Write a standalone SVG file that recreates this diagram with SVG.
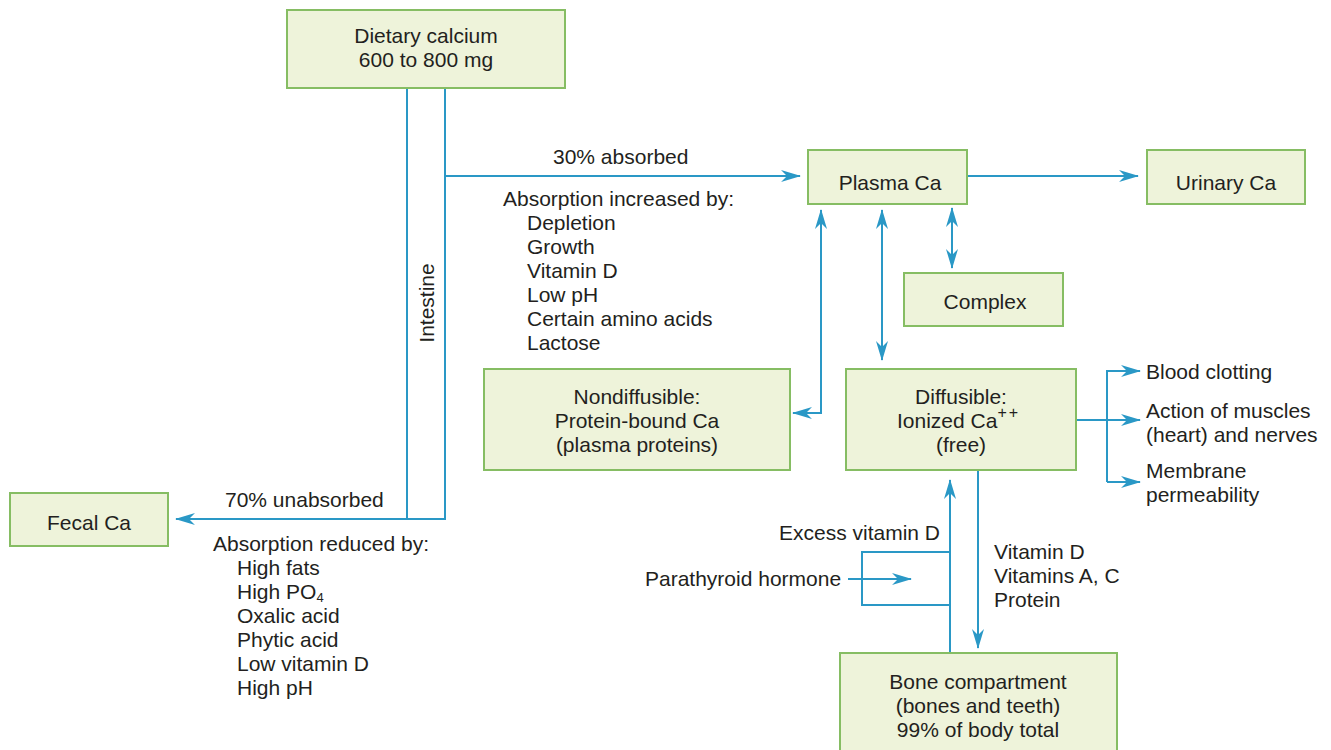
<svg xmlns="http://www.w3.org/2000/svg" width="1331" height="750" viewBox="0 0 1331 750">
  <defs>
    <style>
      .box { fill: #eef3da; stroke: #86bd63; stroke-width: 2; }
      .lbl { font-family: "Liberation Sans", Arial, sans-serif; font-size: 21px; fill: #231f20; }
      .mid { text-anchor: middle; }
      .end { text-anchor: end; }
      .ln { fill: none; stroke: #2a98c6; stroke-width: 2; }
    </style>
    <marker id="ah" viewBox="0 0 20 12" refX="19" refY="6" markerWidth="20" markerHeight="12" markerUnits="userSpaceOnUse" orient="auto-start-reverse">
      <path d="M0,0 L20,6 L0,12 L6,6 Z" fill="#2a98c6"/>
    </marker>
  </defs>

  <rect width="1331" height="750" fill="#ffffff"/>

  <!-- connectors -->
  <g id="connectors">
    <!-- intestine -->
    <path class="ln" d="M407,88 V519"/>
    <path class="ln" d="M445,88 V519 H176" marker-end="url(#ah)"/>
    <path class="ln" d="M445,176 H800" marker-end="url(#ah)"/>
    <!-- plasma to urinary -->
    <path class="ln" d="M967,176 H1138" marker-end="url(#ah)"/>
    <!-- plasma / protein-bound -->
    <path class="ln" d="M793,413 H821 V210" marker-start="url(#ah)" marker-end="url(#ah)"/>
    <!-- plasma / diffusible -->
    <path class="ln" d="M882,210 V360" marker-start="url(#ah)" marker-end="url(#ah)"/>
    <!-- plasma / complex -->
    <path class="ln" d="M952,208 V268" marker-start="url(#ah)" marker-end="url(#ah)"/>
    <!-- diffusible to functions -->
    <path class="ln" d="M1076,420 H1140" marker-end="url(#ah)"/>
    <path class="ln" d="M1107,482 V371 H1140" marker-end="url(#ah)"/>
    <path class="ln" d="M1107,482 H1140" marker-end="url(#ah)"/>
    <!-- bone exchange -->
    <path class="ln" d="M950,653 V480" marker-end="url(#ah)"/>
    <path class="ln" d="M978,470 V648" marker-end="url(#ah)"/>
    <path class="ln" d="M950,552 H862 V605 H950"/>
    <path class="ln" d="M848,579 H911" marker-end="url(#ah)"/>
  </g>

  <g id="dietary">
    <rect class="box" x="287" y="10" width="278" height="78"/>
    <text class="lbl mid" x="426" y="43">Dietary calcium</text>
    <text class="lbl mid" x="426" y="67">600 to 800 mg</text>
  </g>

  <g id="intestine-labels">
    <text class="lbl" x="0" y="0" transform="translate(434,303) rotate(-90)" text-anchor="middle">Intestine</text>
    <text class="lbl" x="553" y="164">30% absorbed</text>
    <text class="lbl" x="503" y="206">Absorption increased by:</text>
    <text class="lbl" x="527" y="230">Depletion</text>
    <text class="lbl" x="527" y="254">Growth</text>
    <text class="lbl" x="527" y="278">Vitamin D</text>
    <text class="lbl" x="527" y="302">Low pH</text>
    <text class="lbl" x="527" y="326">Certain amino acids</text>
    <text class="lbl" x="527" y="350">Lactose</text>
    <text class="lbl" x="225" y="507">70% unabsorbed</text>
    <text class="lbl" x="213" y="551">Absorption reduced by:</text>
    <text class="lbl" x="237" y="575">High fats</text>
    <text class="lbl" x="237" y="599">High PO<tspan font-size="13px" dy="3">4</tspan></text>
    <text class="lbl" x="237" y="623">Oxalic acid</text>
    <text class="lbl" x="237" y="647">Phytic acid</text>
    <text class="lbl" x="237" y="671">Low vitamin D</text>
    <text class="lbl" x="237" y="695">High pH</text>
  </g>

  <g id="fecal">
    <rect class="box" x="10" y="493" width="158" height="53"/>
    <text class="lbl mid" x="89" y="530">Fecal Ca</text>
  </g>

  <g id="plasma">
    <rect class="box" x="808" y="150" width="159" height="54"/>
    <text class="lbl mid" x="890" y="190">Plasma Ca</text>
  </g>

  <g id="urinary">
    <rect class="box" x="1147" y="150" width="158" height="54"/>
    <text class="lbl mid" x="1226" y="190">Urinary Ca</text>
  </g>

  <g id="complex">
    <rect class="box" x="904" y="273" width="159" height="53"/>
    <text class="lbl mid" x="985" y="309">Complex</text>
  </g>

  <g id="nondiffusible">
    <rect class="box" x="484" y="369" width="306" height="101"/>
    <text class="lbl mid" x="637" y="404">Nondiffusible:</text>
    <text class="lbl mid" x="637" y="428">Protein-bound Ca</text>
    <text class="lbl mid" x="637" y="452">(plasma proteins)</text>
  </g>

  <g id="diffusible">
    <rect class="box" x="846" y="369" width="230" height="101"/>
    <text class="lbl mid" x="961" y="404">Diffusible:</text>
    <text class="lbl" x="897" y="428">Ionized Ca<tspan font-size="16px" dy="-10" letter-spacing="2">++</tspan></text>
    <text class="lbl mid" x="961" y="452">(free)</text>
  </g>

  <g id="functions">
    <text class="lbl" x="1146" y="379">Blood clotting</text>
    <text class="lbl" x="1146" y="418">Action of muscles</text>
    <text class="lbl" x="1146" y="442">(heart) and nerves</text>
    <text class="lbl" x="1146" y="478">Membrane</text>
    <text class="lbl" x="1146" y="502">permeability</text>
  </g>

  <g id="bone-labels">
    <text class="lbl end" x="940" y="540">Excess vitamin D</text>
    <text class="lbl" x="645" y="586">Parathyroid hormone</text>
    <text class="lbl" x="994" y="559">Vitamin D</text>
    <text class="lbl" x="994" y="583">Vitamins A, C</text>
    <text class="lbl" x="994" y="607">Protein</text>
  </g>

  <g id="bone">
    <rect class="box" x="840" y="653" width="277" height="100"/>
    <text class="lbl mid" x="978" y="689">Bone compartment</text>
    <text class="lbl mid" x="978" y="713">(bones and teeth)</text>
    <text class="lbl mid" x="978" y="737">99% of body total</text>
  </g>
</svg>
